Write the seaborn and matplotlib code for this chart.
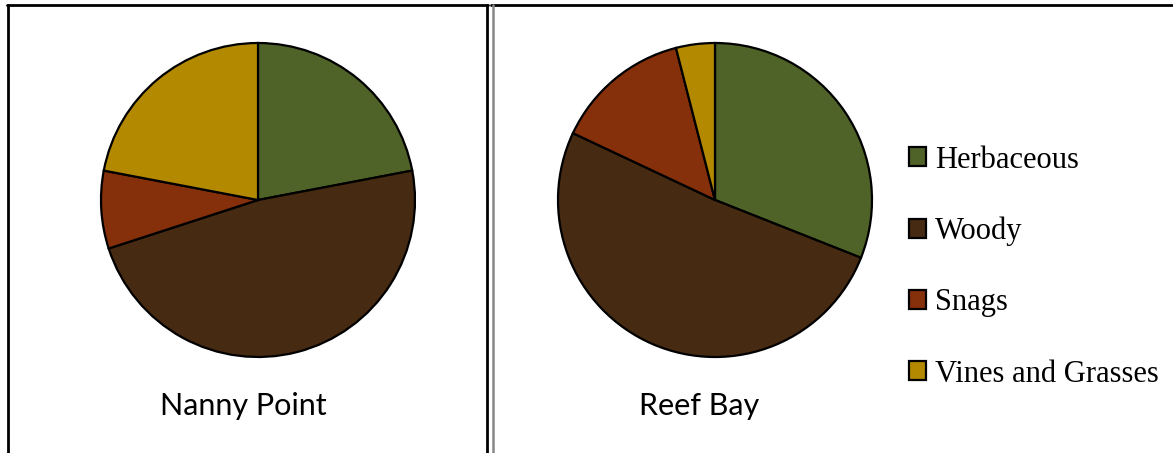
import matplotlib
matplotlib.use("Agg")
import matplotlib.pyplot as plt
from matplotlib.lines import Line2D
import seaborn as sns

categories = ["Herbaceous", "Woody", "Snags", "Vines and Grasses"]
sites = ["Nanny Point", "Reef Bay"]
nanny_point = [22, 48, 8, 22]
reef_bay = [31, 51, 14, 4]
colors = ["#4F6228", "#472A12", "#85300B", "#B38900"]

sns.set_theme(style="white")
sns.set_palette(colors)

W, H = 1173, 453
fig = plt.figure(figsize=(W / 100, H / 100), dpi=100)
fig.patch.set_facecolor("white")


def px_axes(x0, y0, w, h):
    """Axes placed in pixel coordinates measured from the top-left corner."""
    return fig.add_axes([x0 / W, 1 - (y0 + h) / H, w / W, h / H])


# panel frames
def vline(x, color="black", lw=2.0):
    fig.add_artist(Line2D([x / W, x / W], [0, 1 - 5 / H], color=color, lw=lw,
                          transform=fig.transFigure))


def hline(x0, x1, y, color="black", lw=2.0):
    fig.add_artist(Line2D([x0 / W, x1 / W], [1 - y / H, 1 - y / H], color=color,
                          lw=lw, transform=fig.transFigure))


hline(7, 488, 5)
hline(491, 1172, 5)
vline(7.5)
vline(487)
vline(492.5, color="#888888", lw=1.8)

panels = [(258, nanny_point, 243), (715, reef_bay, 699)]
r = 157
wedges_ref = None
for (cx, vals, tx), name in zip(panels, sites):
    ax = px_axes(cx - r - 2, 200 - r - 2, 2 * r + 4, 2 * r + 4)
    wedges, _ = ax.pie(vals, colors=colors, startangle=90, counterclock=False,
                       radius=r / (r + 2),
                       wedgeprops=dict(edgecolor="black", linewidth=1.6))
    ax.set_xlim(-1, 1)
    ax.set_ylim(-1, 1)
    ax.set_aspect("equal")
    ax.axis("off")
    if wedges_ref is None:
        wedges_ref = wedges
    fig.text(tx / W, 1 - 406 / H, name, ha="center", va="center",
             fontsize=22, family=["Lato", "DejaVu Sans"], color="black")

leg = fig.legend(wedges_ref, categories, loc="center left",
                 bbox_to_anchor=(894 / W, 1 - 267 / H), frameon=False,
                 prop=dict(family=["Liberation Serif", "DejaVu Serif"], size=22),
                 handlelength=0.55, handleheight=0.55, handletextpad=0.3,
                 labelspacing=1.38, borderpad=0)
for t in leg.get_texts():
    t.set_color("black")

fig.savefig("out.png", dpi=100, facecolor="white")
